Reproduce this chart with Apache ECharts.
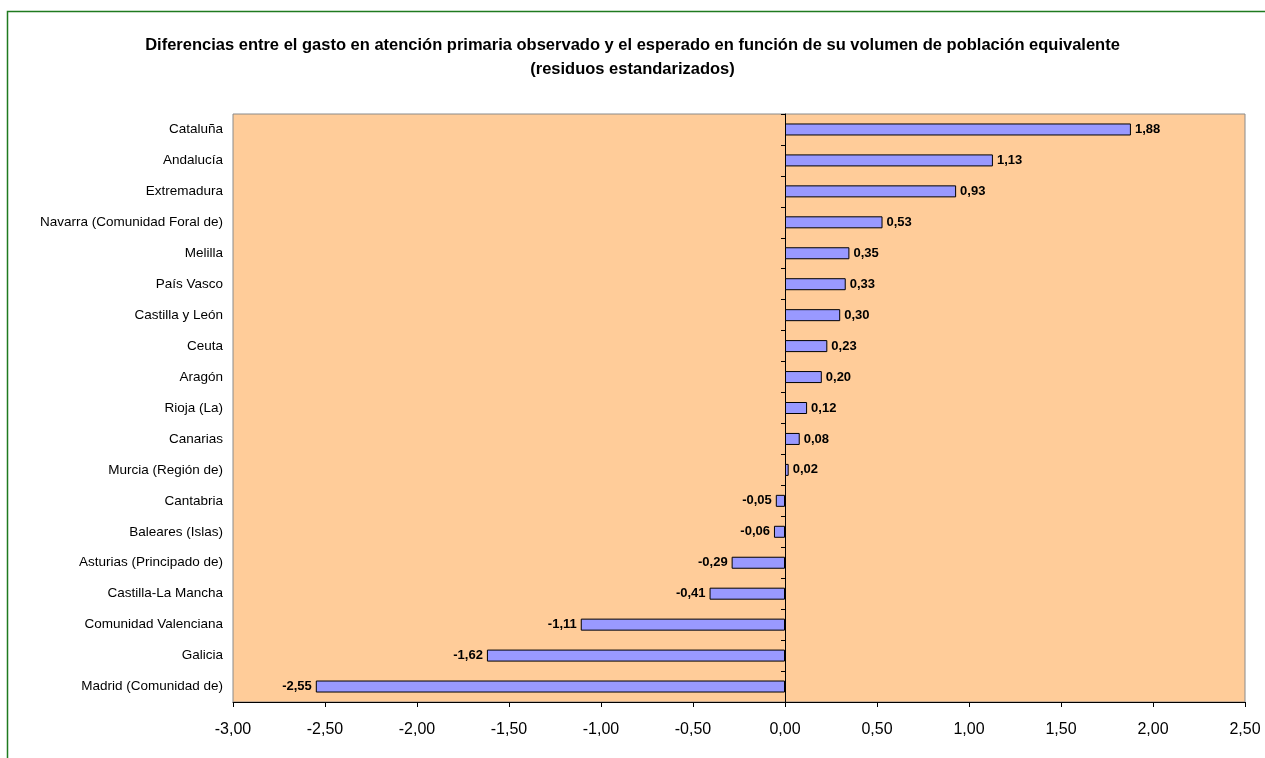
<!DOCTYPE html>
<html>
<head>
<meta charset="utf-8">
<script src="https://cdn.jsdelivr.net/npm/echarts@6/dist/echarts.min.js"></script>
<style>
html,body{margin:0;padding:0;background:#fff;}
#c{width:1265px;height:758px;}
</style>
</head>
<body>
<div id="c"></div>
<script>
const categories = ["Cataluña","Andalucía","Extremadura","Navarra (Comunidad Foral de)","Melilla","País Vasco","Castilla y León","Ceuta","Aragón","Rioja (La)","Canarias","Murcia (Región de)","Cantabria","Baleares (Islas)","Asturias (Principado de)","Castilla-La Mancha","Comunidad Valenciana","Galicia","Madrid (Comunidad de)"];
const values = [1.88,1.13,0.93,0.53,0.35,0.33,0.30,0.23,0.20,0.12,0.08,0.02,-0.05,-0.06,-0.29,-0.41,-1.11,-1.62,-2.55];
const titleLines = ["Diferencias entre el gasto en atención primaria observado y el esperado en función de su volumen de población equivalente","(residuos estandarizados)"];
const xMin = -3, xMax = 2.5, xStep = 0.5;

const fmt = v => v.toFixed(2).replace('.', ',');
const FONT = '"Liberation Sans", Arial, sans-serif';
const chart = echarts.init(document.getElementById('c'));
const gridLeft = 233, gridWidth = 1012;
const zeroX = gridWidth * (0 - xMin) / (xMax - xMin);

chart.setOption({
  animation: false,
  backgroundColor: '#ffffff',
  graphic: [
    {type:'polyline', shape:{points:[[7.5,758],[7.5,11.5],[1265,11.5]]}, style:{stroke:'#1f7a1f', lineWidth:1.5, fill:null}, z:100}
  ],
  title: {
    text: titleLines.join('\n'),
    left: 'center', top: 28,
    textStyle: {fontFamily: FONT, fontSize: 16.5, fontWeight: 'bold', color: '#000', lineHeight: 24}
  },
  grid: {left: gridLeft, width: gridWidth, top: 114, bottom: 56, show: true, backgroundColor: '#ffcc99', borderColor: '#8a8a8a', borderWidth: 1},
  xAxis: {
    type: 'value', min: xMin, max: xMax, interval: xStep,
    axisLine: {show: true, onZero: false, lineStyle: {color: '#000'}},
    axisTick: {show: true, length: 5, lineStyle: {color: '#000'}},
    splitLine: {show: false},
    axisLabel: {formatter: v => fmt(v), fontFamily: FONT, fontSize: 16, color: '#000', margin: 20}
  },
  yAxis: [
    {
      type: 'category', data: categories, inverse: true,
      axisLine: {show: false}, axisTick: {show: false},
      axisLabel: {fontFamily: FONT, fontSize: 13.5, color: '#000', margin: 10}
    },
    {
      type: 'category', data: categories, inverse: true, position: 'left', offset: -zeroX,
      axisLine: {show: true, onZero: false, lineStyle: {color: '#000'}},
      axisTick: {show: true, length: 4, lineStyle: {color: '#000'}},
      axisLabel: {show: false}
    }
  ],
  series: [{
    type: 'bar', yAxisIndex: 0, barWidth: 12,
    data: values.map(v => ({value: v, label: {position: v < 0 ? 'left' : 'right'}})),
    itemStyle: {color: '#9999ff', borderColor: '#000', borderWidth: 1},
    label: {
      show: true, fontFamily: FONT, fontSize: 13, fontWeight: 'bold', color: '#000',
      formatter: p => fmt(p.value), distance: 4
    }
  }]
});
</script>
</body>
</html>
